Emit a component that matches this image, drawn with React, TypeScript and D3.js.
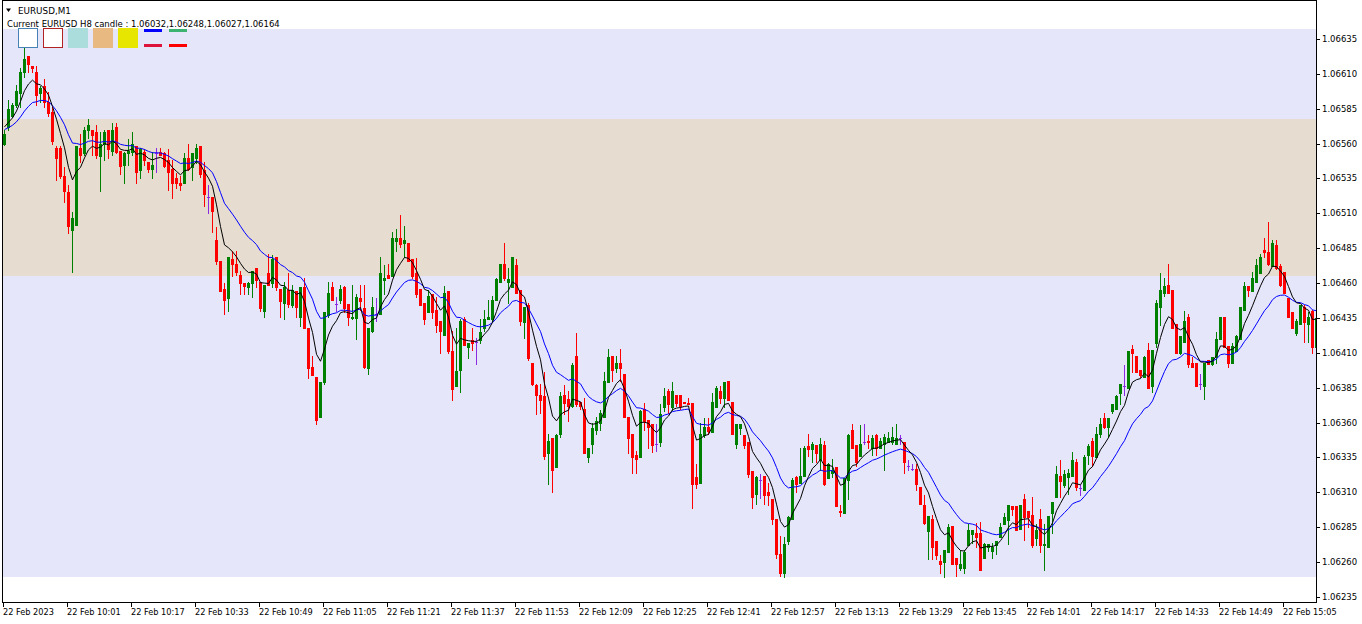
import React from 'react';
import * as d3 from 'd3';

// Prices are stored in points (1 point = 0.00001) above BASE.
const BASE = 1.06;
const PT = 0.00001;

const opens = [560,572,580,588,596,611,623,616,611,596,601,590,583,557,557,537,525,498,502,557,553,570,570,568,551,560,570,555,572,555,545,553,554,558,541,554,547,542,553,554,553,548,542,535,532,532,550,543,550,558,541,522,522,491,476,456,449,477,474,466,460,457,460,471,461,440,467,460,479,456,446,455,444,454,436,457,428,400,393,364,389,437,457,445,448,457,445,435,435,449,442,399,426,438,438,462,466,465,490,492,489,489,477,467,456,446,439,452,441,433,423,454,411,386,398,434,414,419,418,419,428,434,434,448,461,474,461,457,473,455,432,444,403,387,380,379,338,349,328,352,380,377,372,408,375,370,335,345,355,360,364,389,408,399,403,395,364,352,337,335,370,362,359,345,346,371,383,371,380,380,375,374,374,321,317,351,357,353,371,383,378,390,375,345,356,351,346,325,309,319,322,310,305,291,266,252,275,291,321,317,322,343,341,344,333,344,320,324,328,297,295,319,355,344,336,346,347,342,351,342,345,346,346,345,349,346,329,327,327,314,301,282,291,275,261,260,267,286,263,256,256,272,280,281,281,263,271,268,272,278,287,290,300,300,284,305,297,294,277,291,272,271,295,307,322,315,321,322,332,313,312,337,347,335,352,363,357,368,370,381,386,385,413,408,398,393,412,386,417,443,453,459,455,431,410,418,436,403,403,388,386,405,402,407,420,436,415,403,411,420,441,458,454,461,467,484,482,472,487,472,468,449,439,424,431,443,431,440,414];
const highs = [570,591,589,602,614,629,623,616,616,601,606,597,586,558,558,543,530,511,558,567,572,578,570,573,568,570,570,575,575,555,554,563,568,558,557,556,547,554,557,557,554,556,548,539,537,553,560,553,560,558,547,530,522,500,476,460,479,483,483,469,460,461,469,471,461,459,481,480,479,456,461,467,459,454,457,464,428,408,393,389,439,461,461,450,459,458,445,459,452,459,459,428,450,449,479,473,474,497,499,509,501,489,477,478,456,446,455,452,450,433,458,454,426,428,434,436,417,428,421,434,441,448,451,464,474,489,471,479,477,455,443,446,403,388,388,396,352,349,352,382,387,383,403,424,375,378,342,360,364,369,396,413,408,408,413,395,364,352,340,369,374,362,359,359,373,385,384,389,380,380,375,378,374,330,360,363,363,381,386,386,389,390,375,359,359,351,346,325,322,323,322,317,305,291,279,278,293,320,322,342,343,352,346,344,349,347,331,334,328,301,320,352,359,344,358,359,351,351,352,349,352,353,357,359,351,346,333,330,330,314,308,293,294,275,265,269,287,286,263,269,269,287,283,288,289,274,273,274,275,288,295,301,300,300,301,309,297,307,287,298,287,293,303,329,333,326,327,339,334,315,337,345,349,357,363,367,363,373,380,388,401,411,416,408,398,408,417,412,448,467,464,474,455,431,422,440,438,407,403,395,403,405,407,425,436,436,415,417,423,443,461,458,468,477,481,492,504,491,491,474,468,449,439,434,444,444,439,441,436];
const lows = [559,570,579,586,586,608,611,611,588,590,586,580,560,534,535,518,496,468,502,547,552,564,552,550,526,548,550,552,553,538,532,545,552,532,535,545,540,535,540,552,543,527,521,528,527,532,541,534,546,536,515,510,497,474,454,438,440,465,466,452,452,452,450,457,440,436,459,457,455,436,434,443,443,436,429,428,392,394,359,364,388,436,448,440,446,439,430,434,420,441,399,395,425,433,438,452,464,465,483,486,479,476,464,450,444,431,439,435,425,410,423,410,376,386,382,416,406,412,402,417,426,434,432,448,461,462,446,457,453,430,421,405,387,366,367,334,316,310,328,350,366,361,371,372,370,338,332,338,352,355,364,389,390,396,390,364,338,324,324,335,355,342,339,340,343,368,367,369,372,370,374,373,299,313,317,350,352,353,371,374,371,376,352,342,352,342,321,299,302,306,302,301,287,263,250,249,273,291,310,317,322,336,332,332,326,315,320,321,300,293,295,305,342,329,336,345,342,337,337,342,326,346,345,345,345,324,326,326,312,302,287,262,262,262,252,249,267,259,250,254,252,272,274,271,254,263,268,263,266,278,287,273,294,283,284,276,285,271,272,267,254,271,281,307,307,314,309,322,312,308,312,330,329,335,350,356,350,367,370,373,380,385,396,396,393,393,385,382,414,430,451,453,428,410,409,418,400,400,386,384,377,402,401,403,420,414,400,403,411,420,441,451,454,461,467,479,473,472,470,458,453,436,428,423,431,418,418,410,411];
const closes = [567,585,588,598,611,621,617,614,595,600,590,582,562,550,537,526,501,507,558,552,570,573,566,552,560,568,556,570,554,544,553,555,560,540,556,548,542,545,553,552,544,540,532,532,530,550,542,553,557,538,524,522,512,476,454,448,479,474,468,460,458,460,469,462,442,459,459,477,457,447,457,445,455,443,457,428,399,394,362,389,439,453,448,445,456,442,436,436,450,447,400,428,443,438,467,464,464,492,492,488,491,476,465,452,444,434,451,439,430,426,453,411,384,397,433,416,417,417,418,425,434,436,448,463,474,464,463,479,453,433,443,406,388,380,376,336,347,326,351,379,374,372,401,373,372,338,342,356,361,367,390,407,398,403,399,364,349,335,334,368,361,357,344,345,366,379,373,383,374,372,374,373,316,316,352,357,354,375,385,378,389,376,352,359,359,344,323,307,321,319,308,308,291,266,252,273,292,319,316,322,342,341,345,338,345,316,330,326,300,296,320,351,342,332,345,346,346,349,342,347,350,349,350,349,349,332,329,327,316,302,288,293,271,265,259,269,285,259,259,259,267,283,283,278,254,273,273,271,275,285,292,301,298,283,301,292,292,272,283,272,273,293,303,323,318,323,324,333,314,313,335,343,336,352,359,357,363,373,379,388,386,411,410,396,394,407,385,412,446,455,458,453,428,410,422,433,402,400,386,388,403,402,407,420,436,414,403,415,422,443,458,455,464,473,479,482,474,489,471,459,453,436,428,433,444,432,436,414,435];

// Values of the two moving averages at the first bar
const fastMaStart = 572;
const slowMaStart = 570;

const priceTicks = ["1.06635","1.06610","1.06585","1.06560","1.06535","1.06510","1.06485","1.06460","1.06435","1.06410","1.06385","1.06360","1.06335","1.06310","1.06285","1.06260","1.06235"];
const timeLabels = ["22 Feb 2023","22 Feb 10:01","22 Feb 10:17","22 Feb 10:33","22 Feb 10:49","22 Feb 11:05","22 Feb 11:21","22 Feb 11:37","22 Feb 11:53","22 Feb 12:09","22 Feb 12:25","22 Feb 12:41","22 Feb 12:57","22 Feb 13:13","22 Feb 13:29","22 Feb 13:45","22 Feb 14:01","22 Feb 14:17","22 Feb 14:33","22 Feb 14:49","22 Feb 15:05"];
const timeLabelBars = [0,16,32,48,64,80,96,112,128,144,160,176,192,208,224,240,256,272,288,304,320];

const zoneTops = [1.06642, 1.06578];
const zoneBottoms = [1.06249, 1.06465];

const chartTitle = "EURUSD,M1";
const h8Label = "Current EURUSD H8 candle : ";
const h8Values = ["1.06032", "1.06248", "1.06027", "1.06164"];

const W = 1362, H = 624;
const PL = 2, PR = 1316, PT_ = 0, PB = 602;
const FONT = "'DejaVu Sans', sans-serif";

export default function App() {
  const n = closes.length;
  const x = d3.scaleLinear().domain([0, 1]).range([4, 8]);
  const y = d3.scaleLinear().domain([1.06235, 1.06635]).range([597, 39]);
  const py = (v: number) => y(BASE + v * PT);

  const fast: number[] = [];
  const slow: number[] = [];
  for (let i = 0; i < n; i++) {
    fast.push(i === 0 ? fastMaStart : fast[i - 1] + 0.25 * (closes[i] - fast[i - 1]));
    slow.push(i === 0 ? slowMaStart : slow[i - 1] + 0.1 * (closes[i] - slow[i - 1]));
  }
  const line = d3.line<number>().x((_, i) => x(i) + 0.5).y((d) => py(d));

  const zoneColors = ["#E6E6FA", "#E6DCD0"];

  const candles = closes.map((c, i) => {
    const o = opens[i];
    const cx = x(i);
    const col = o === c ? "#8A2BE2" : c > o ? "#008000" : "#FF0000";
    const yh = Math.round(py(highs[i]));
    const yl = Math.round(py(lows[i]));
    const yt = Math.round(py(Math.max(o, c)));
    const yb = Math.round(py(Math.min(o, c)));
    return (
      <g key={i} fill={col}>
        <rect x={cx} y={yh} width={1} height={Math.max(1, yl - yh + 1)} />
        <rect x={cx - 1} y={yt} width={3} height={Math.max(1, yb - yt + 1)} />
      </g>
    );
  });

  return (
    <div style={{ position: "absolute", left: 0, top: 0 }}>
      <svg width={W} height={H} style={{ display: "block", background: "#fff" }} fontFamily={FONT}>
        <defs>
          <clipPath id="plot">
            <rect x={PL + 1} y={PT_ + 1} width={PR - PL - 1} height={PB - PT_ - 1} />
          </clipPath>
        </defs>
        <g clipPath="url(#plot)">
          {zoneTops.map((t, k) => (
            <rect key={k} x={PL} y={Math.round(y(t))} width={PR - PL}
              height={Math.round(y(zoneBottoms[k])) - Math.round(y(t))} fill={zoneColors[k]} />
          ))}
          {candles}
          <path d={line(slow) || ""} fill="none" stroke="#0000FF" strokeWidth={1} />
          <path d={line(fast) || ""} fill="none" stroke="#000000" strokeWidth={1} />
        </g>
        {/* frame */}
        <rect x={PL + 0.5} y={PT_ + 0.5} width={PR - PL} height={PB - PT_} fill="none" stroke="#000" strokeWidth={1} />
        {/* price axis */}
        {priceTicks.map((t) => {
          const yy = Math.round(y(+t)) + 0.5;
          return (
            <g key={t}>
              <line x1={PR + 1} x2={PR + 4} y1={yy} y2={yy} stroke="#000" />
              <text x={PR + 6} y={yy} dy="0.35em" fontSize={8.5} fill="#000">{t}</text>
            </g>
          );
        })}
        {/* time axis */}
        {timeLabels.map((t, k) => {
          const xx = x(timeLabelBars[k]) - 0.5;
          return (
            <g key={t}>
              <line x1={xx} x2={xx} y1={PB + 1} y2={PB + 5} stroke="#000" />
              <text x={xx - 0.5} y={615} fontSize={8.2} fill="#000">{t}</text>
            </g>
          );
        })}
        {/* header */}
        <polygon points="6,8.5 11,8.5 8.5,12" fill="#000" />
        <text x={18} y={14} fontSize={8.8} fill="#000">{chartTitle}</text>
        <text x={7} y={27} fontSize={8.5} fill="#000">{h8Label + h8Values.join(",")}</text>
        {/* legend swatches */}
        <rect x={18.5} y={28.5} width={19} height={19} fill="#fff" stroke="#4682B4" />
        <rect x={43.5} y={28.5} width={19} height={19} fill="#fff" stroke="#B22222" />
        <rect x={68} y={28} width={20} height={20} fill="#AADDDB" />
        <rect x={93} y={28} width={20} height={20} fill="#E8BA82" />
        <rect x={118} y={28} width={20} height={20} fill="#E6E600" />
        <rect x={144} y={29} width={18} height={3} fill="#0000FF" />
        <rect x={144} y={44} width={18} height={3} fill="#DC143C" />
        <rect x={169} y={29} width={18} height={3} fill="#3CB371" />
        <rect x={169} y={44} width={18} height={3} fill="#FF0000" />
      </svg>
    </div>
  );
}
